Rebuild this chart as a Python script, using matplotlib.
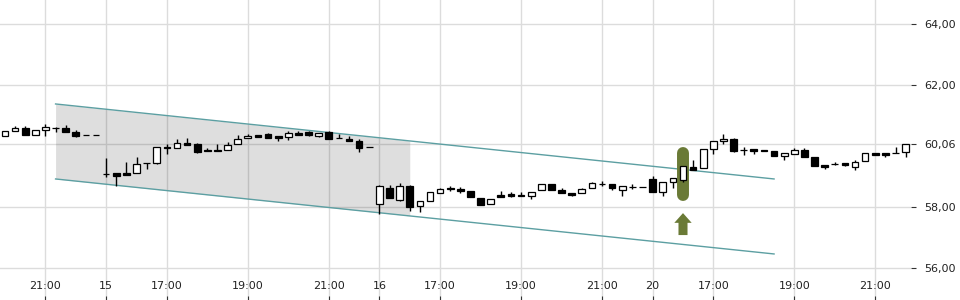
import matplotlib
matplotlib.use("Agg")
import matplotlib.pyplot as plt
from matplotlib.patches import FancyArrowPatch, ArrowStyle

# 15-minute candles
opens = [60.33, 60.49, 60.58, 60.35, 60.51, 60.58, 60.58, 60.47, 60.35, 60.35,
         59.08, 59.10, 59.12, 59.10, 59.45, 59.45, 59.98, 59.92, 60.09, 60.06,
         59.88, 59.87, 59.87, 60.06, 60.25, 60.35, 60.38, 60.32, 60.29, 60.42,
         60.47, 60.34, 60.47, 60.25, 60.23, 60.16, 59.96, 58.11, 58.63, 58.23,
         58.69, 58.04, 58.19, 58.47, 58.63, 58.58, 58.53, 58.29, 58.09, 58.38,
         58.42, 58.39, 58.36, 58.56, 58.74, 58.55, 58.45, 58.45, 58.62, 58.76,
         58.74, 58.55, 58.67, 58.67, 58.92, 58.48, 58.81, 58.88, 59.30, 59.27,
         59.89, 60.15, 60.23, 59.88, 59.90, 59.88, 59.84, 59.68, 59.73, 59.86,
         59.64, 59.38, 59.42, 59.43, 59.32, 59.51, 59.76, 59.76, 59.78, 59.81]
highs = [60.50, 60.65, 60.65, 60.52, 60.71, 60.62, 60.69, 60.52, 60.35, 60.35,
         59.62, 59.12, 59.47, 59.63, 59.45, 59.97, 60.06, 60.23, 60.27, 60.11,
         59.94, 60.08, 60.12, 60.36, 60.40, 60.35, 60.42, 60.32, 60.50, 60.49,
         60.48, 60.43, 60.49, 60.38, 60.34, 60.22, 59.96, 58.73, 58.72, 58.79,
         58.73, 58.19, 58.50, 58.63, 58.70, 58.65, 58.53, 58.29, 58.27, 58.52,
         58.49, 58.48, 58.48, 58.74, 58.74, 58.62, 58.45, 58.63, 58.83, 58.84,
         58.74, 58.68, 58.76, 58.67, 59.02, 58.81, 58.94, 59.33, 59.53, 59.89,
         60.15, 60.38, 60.25, 59.97, 59.90, 59.88, 59.84, 59.77, 59.93, 59.93,
         59.64, 59.38, 59.48, 59.43, 59.55, 59.77, 59.76, 59.76, 59.98, 60.06]
lows = [60.33, 60.49, 60.35, 60.35, 60.32, 60.47, 60.45, 60.30, 60.35, 60.35,
        58.99, 58.70, 59.06, 59.10, 59.24, 59.41, 59.73, 59.92, 60.04, 59.78,
        59.84, 59.83, 59.87, 60.06, 60.25, 60.30, 60.25, 60.17, 60.21, 60.37,
        60.34, 60.30, 60.23, 60.25, 60.17, 59.81, 59.96, 57.77, 58.29, 58.20,
        57.88, 57.85, 58.19, 58.47, 58.53, 58.45, 58.32, 58.06, 58.09, 58.32,
        58.32, 58.36, 58.25, 58.56, 58.56, 58.45, 58.36, 58.45, 58.62, 58.69,
        58.56, 58.35, 58.58, 58.67, 58.48, 58.37, 58.63, 58.83, 59.22, 59.27,
        59.75, 60.08, 59.79, 59.70, 59.73, 59.85, 59.67, 59.54, 59.73, 59.64,
        59.33, 59.25, 59.38, 59.33, 59.20, 59.51, 59.70, 59.65, 59.78, 59.65]
closes = [60.50, 60.60, 60.35, 60.52, 60.63, 60.58, 60.45, 60.34, 60.35, 60.35,
          59.08, 59.03, 59.06, 59.42, 59.45, 59.97, 59.93, 60.09, 60.04, 59.81,
          59.84, 59.83, 60.02, 60.22, 60.32, 60.30, 60.27, 60.27, 60.42, 60.37,
          60.35, 60.43, 60.23, 60.25, 60.17, 59.94, 59.96, 58.69, 58.29, 58.69,
          58.01, 58.19, 58.50, 58.58, 58.58, 58.52, 58.32, 58.06, 58.27, 58.32,
          58.36, 58.36, 58.48, 58.74, 58.56, 58.45, 58.40, 58.58, 58.78, 58.76,
          58.61, 58.68, 58.67, 58.67, 58.48, 58.81, 58.94, 59.33, 59.22, 59.89,
          60.15, 60.22, 59.85, 59.88, 59.83, 59.85, 59.67, 59.77, 59.86, 59.64,
          59.33, 59.32, 59.42, 59.38, 59.47, 59.77, 59.70, 59.70, 59.78, 60.06]

# trend channel (candle index, price)
channel_x = [5, 76]
channel_upper = [61.38, 58.92]
channel_lower = [58.92, 56.46]
shade_end = 40

# highlighted candle and signal arrow
signal_idx = 67
signal_band = [58.39, 59.77]
arrow_span = [57.08, 57.80]

tick_pos = [4, 10, 16, 24, 32, 37, 43, 51, 59, 64, 70, 78, 86]
tick_labels = ["21:00", "15", "17:00", "19:00", "21:00", "16", "17:00",
               "19:00", "21:00", "20", "17:00", "19:00", "21:00"]
ytick_vals = [56, 58, 60.06, 62, 64]
ytick_labels = ["56,00", "58,00", "60,06", "62,00", "64,00"]

fig = plt.figure(figsize=(9.6, 3.0), dpi=100)
fig.patch.set_facecolor("white")
ax = fig.add_axes([0, 0, 911 / 960, 1])

for s in ax.spines.values():
    s.set_visible(False)

ax.set_xlim(-0.49, 89.53)
ax.set_ylim(54.95, 64.79)

# grid
ax.set_axisbelow(True)
ax.grid(True, color="#dcdcdc", linewidth=1.0, zorder=0)

# channel shade and lines
def line_at(x, ys):
    return ys[0] + (ys[1] - ys[0]) * (x - channel_x[0]) / (channel_x[1] - channel_x[0])

sx = [channel_x[0], shade_end]
ax.fill_between(sx, [line_at(v, channel_lower) for v in sx],
                [line_at(v, channel_upper) for v in sx],
                color="black", alpha=0.13, linewidth=0, zorder=1)
ax.plot(channel_x, channel_upper, color="#5c9fa2", linewidth=1.0, zorder=2)
ax.plot(channel_x, channel_lower, color="#5c9fa2", linewidth=1.0, zorder=2)

# signal highlight
ax.plot([signal_idx, signal_idx], signal_band, color="#6a7a36", linewidth=8.6,
        solid_capstyle="round", zorder=3)
arrow = FancyArrowPatch((signal_idx, arrow_span[0]), (signal_idx, arrow_span[1]),
                        arrowstyle=ArrowStyle.Simple(head_length=0.7, head_width=1.25,
                                                     tail_width=0.65),
                        mutation_scale=10, color="#6a7a36", linewidth=0,
                        shrinkA=0, shrinkB=0, zorder=3)
ax.add_patch(arrow)

# candles
idx = list(range(len(opens)))
ax.vlines(idx, lows, highs, color="black", linewidth=1.0, zorder=4)
bottoms = [min(o, c) for o, c in zip(opens, closes)]
heights = [abs(c - o) for o, c in zip(opens, closes)]
faces = ["white" if c >= o else "black" for o, c in zip(opens, closes)]
ax.bar(idx, heights, bottom=bottoms, width=0.66, color=faces,
       edgecolor="black", linewidth=0.9, zorder=5)

# ticks
ax.set_xticks(tick_pos)
ax.set_xticklabels(tick_labels)
ax.tick_params(axis="x", direction="in", length=3, width=0.8, color="#333333",
               pad=-14, labelsize=8, labelcolor="#222222")
ax.yaxis.tick_right()
ax.set_yticks(ytick_vals)
ax.set_yticklabels(ytick_labels)
ax.tick_params(axis="y", direction="out", length=3.5, width=0.8, color="#333333",
               pad=6, labelsize=8, labelcolor="#222222")

fig.savefig("out.png", dpi=100, facecolor="white")
